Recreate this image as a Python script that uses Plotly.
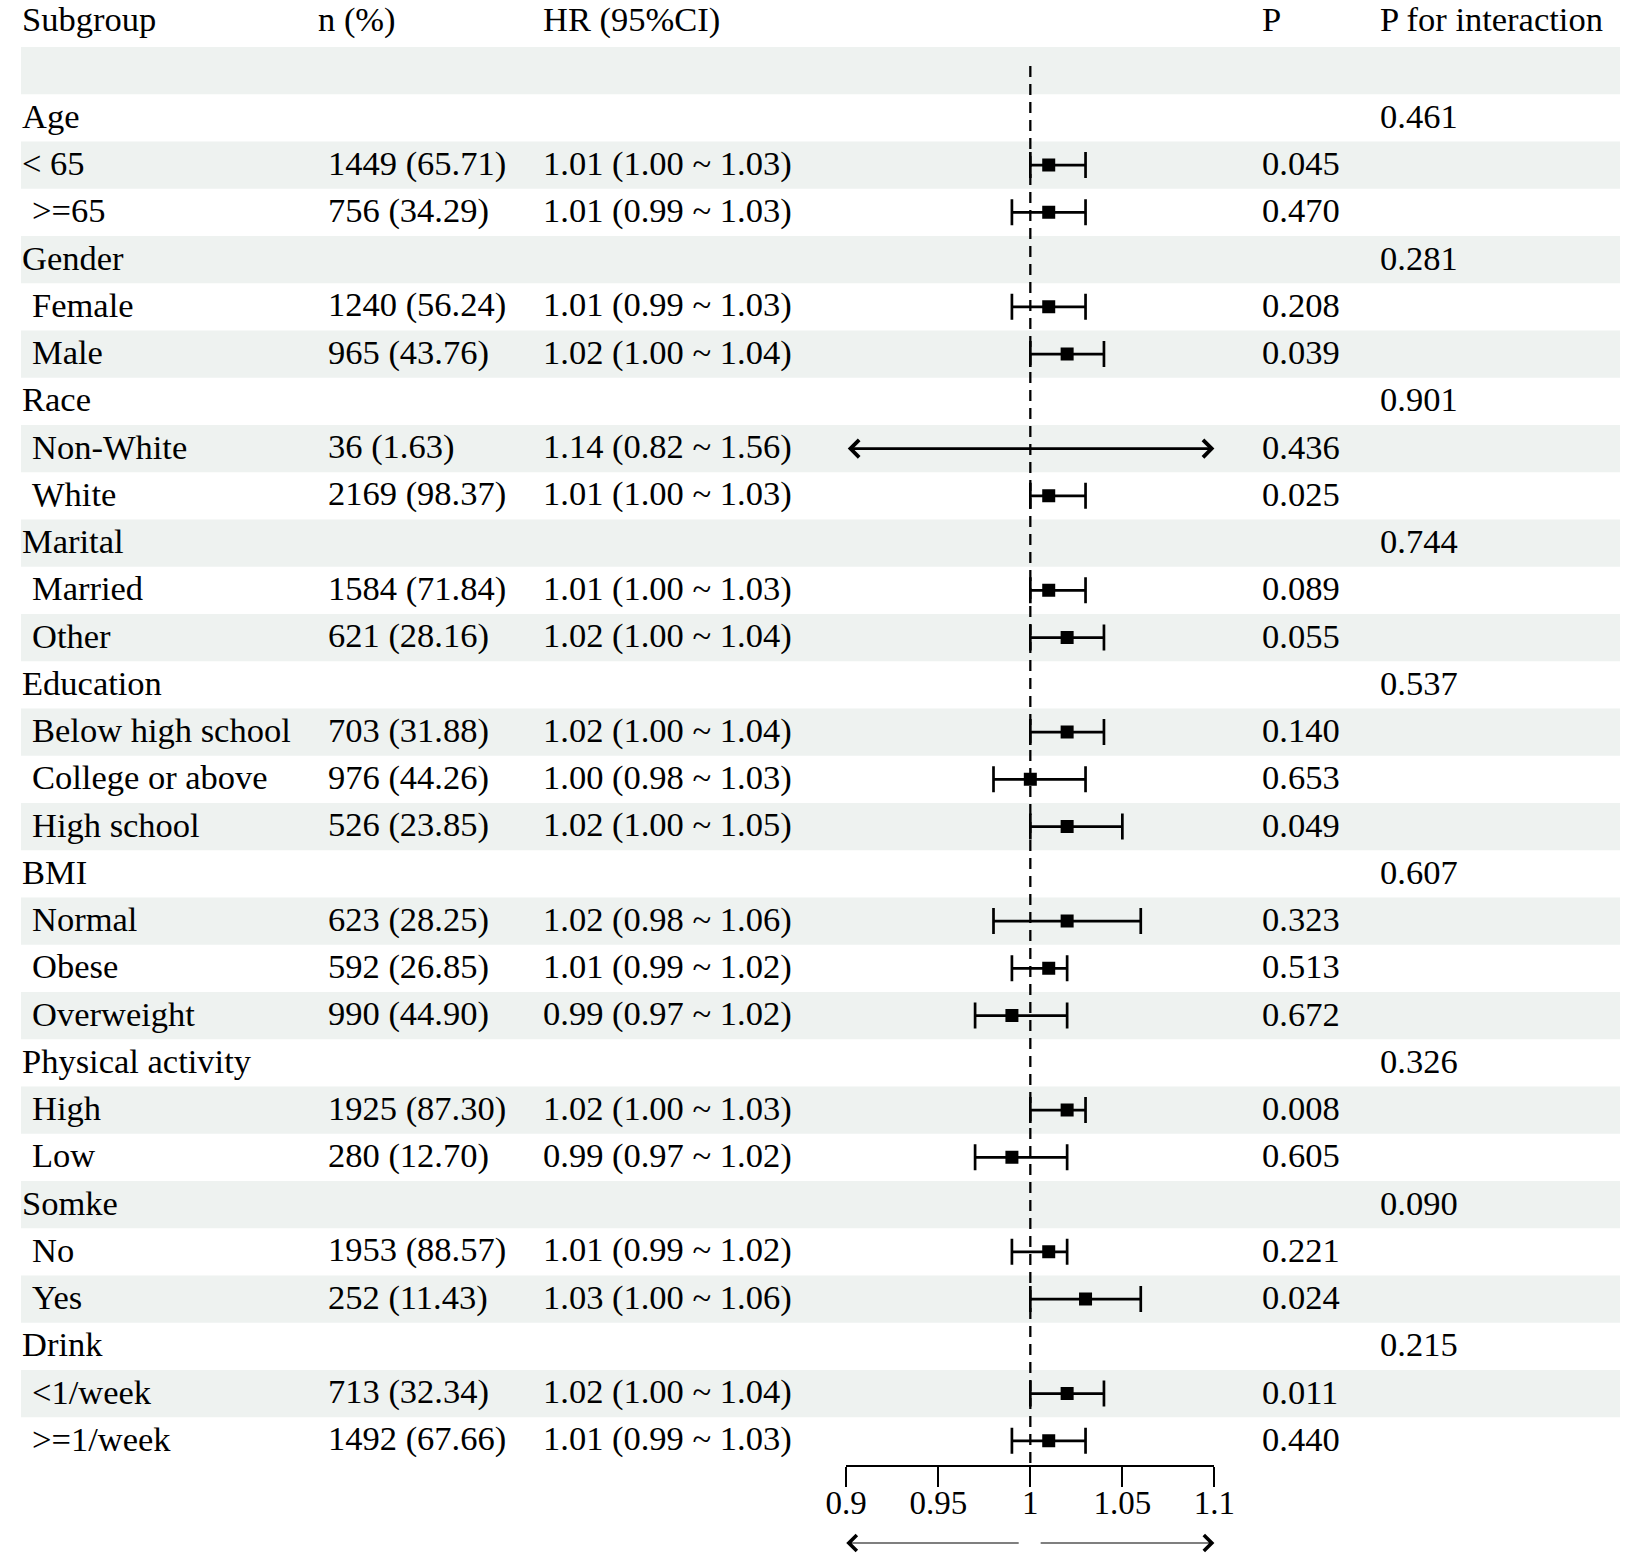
import plotly.graph_objects as go

# ---------------- data ----------------
subgroups = ["", "Age", "< 65", ">=65", "Gender", "Female", "Male", "Race", "Non-White", "White",
             "Marital", "Married", "Other", "Education", "Below high school", "College or above",
             "High school", "BMI", "Normal", "Obese", "Overweight", "Physical activity", "High", "Low",
             "Somke", "No", "Yes", "Drink", "<1/week", ">=1/week"]
indent = [0, 0, 0, 1, 0, 1, 1, 0, 1, 1,
          0, 1, 1, 0, 1, 1,
          1, 0, 1, 1, 1, 0, 1, 1,
          0, 1, 1, 0, 1, 1]
n_pct = ["", "", "1449 (65.71)", "756 (34.29)", "", "1240 (56.24)", "965 (43.76)", "", "36 (1.63)", "2169 (98.37)",
         "", "1584 (71.84)", "621 (28.16)", "", "703 (31.88)", "976 (44.26)",
         "526 (23.85)", "", "623 (28.25)", "592 (26.85)", "990 (44.90)", "", "1925 (87.30)", "280 (12.70)",
         "", "1953 (88.57)", "252 (11.43)", "", "713 (32.34)", "1492 (67.66)"]
hr = [None, None, 1.01, 1.01, None, 1.01, 1.02, None, 1.14, 1.01,
      None, 1.01, 1.02, None, 1.02, 1.00,
      1.02, None, 1.02, 1.01, 0.99, None, 1.02, 0.99,
      None, 1.01, 1.03, None, 1.02, 1.01]
lo = [None, None, 1.00, 0.99, None, 0.99, 1.00, None, 0.82, 1.00,
      None, 1.00, 1.00, None, 1.00, 0.98,
      1.00, None, 0.98, 0.99, 0.97, None, 1.00, 0.97,
      None, 0.99, 1.00, None, 1.00, 0.99]
hi = [None, None, 1.03, 1.03, None, 1.03, 1.04, None, 1.56, 1.03,
      None, 1.03, 1.04, None, 1.04, 1.03,
      1.05, None, 1.06, 1.02, 1.02, None, 1.03, 1.02,
      None, 1.02, 1.06, None, 1.04, 1.03]
p_val = ["", "", "0.045", "0.470", "", "0.208", "0.039", "", "0.436", "0.025",
         "", "0.089", "0.055", "", "0.140", "0.653",
         "0.049", "", "0.323", "0.513", "0.672", "", "0.008", "0.605",
         "", "0.221", "0.024", "", "0.011", "0.440"]
p_int = ["", "0.461", "", "", "0.281", "", "", "0.901", "", "",
         "0.744", "", "", "0.537", "", "",
         "", "0.607", "", "", "", "0.326", "", "",
         "0.090", "", "", "0.215", "", ""]
headers = ["Subgroup", "n (%)", "HR (95%CI)", "P", "P for interaction"]
tick_vals = [0.9, 0.95, 1.0, 1.05, 1.1]
tick_text = ["0.9", "0.95", "1", "1.05", "1.1"]
x_lim = (0.9, 1.1)
ref_line = 1.0

# ---------------- geometry (page pixels) ----------------
W, H = 1641, 1556
row0_px = 70.6
row_h = 47.25
FONT = "Liberation Serif"
FS = 34.5
# horizontal correction measured from previous renders
HA, HB = 0.974, 21.1

def px_to_row(py):
    return (py - row0_px) / row_h

def xp(px):
    page = (px - HB) / HA
    page = min(max(page, 0.0), W)
    return page / W

def yp(py):
    return 1 - py / H

fig = go.Figure()
rows = list(range(len(subgroups)))

shapes = []
for r in rows:
    if r % 2 == 0:
        shapes.append(dict(type="rect", xref="paper", yref="y", x0=xp(5), x1=xp(1638),
                           y0=r - 0.5, y1=r + 0.5, fillcolor="#EEF2F0", line=dict(width=0),
                           layer="below"))

shapes.append(dict(type="line", xref="x", yref="y", x0=ref_line, x1=ref_line,
                   y0=px_to_row(66), y1=px_to_row(1466),
                   line=dict(color="black", width=2.3, dash="11px,7px")))

pr, ph, plo, phi = [], [], [], []
clipped = []
for r in rows:
    if hr[r] is None:
        continue
    if lo[r] < x_lim[0] or hi[r] > x_lim[1]:
        clipped.append(r)
        continue
    pr.append(r); ph.append(hr[r]); plo.append(hr[r] - lo[r]); phi.append(hi[r] - hr[r])

fig.add_trace(go.Scatter(
    x=ph, y=pr, mode="markers",
    marker=dict(symbol="square", size=13, color="black"),
    error_x=dict(type="data", symmetric=False, array=phi, arrayminus=plo,
                 width=13, thickness=2.7, color="black"),
    showlegend=False, hoverinfo="skip"))

annotations = []
for r in clipped:
    a = max(lo[r], x_lim[0]); b = min(hi[r], x_lim[1])
    annotations.append(dict(x=b, y=r, ax=a, ay=r, xref="x", yref="y", axref="x", ayref="y",
                            text="", showarrow=True, arrowhead=4, startarrowhead=4,
                            arrowside="end+start", arrowwidth=2.8, arrowsize=1.2,
                            startarrowsize=1.2, arrowcolor="black"))

y_arr = px_to_row(1543)
annotations.append(dict(x=x_lim[0], y=y_arr, ax=ref_line - 0.0055, ay=y_arr, xref="x", yref="y",
                        axref="x", ayref="y", text="", showarrow=True, arrowhead=4,
                        arrowwidth=1.2, arrowsize=2.6, arrowcolor="black"))
annotations.append(dict(x=x_lim[1], y=y_arr, ax=ref_line + 0.0048, ay=y_arr, xref="x", yref="y",
                        axref="x", ayref="y", text="", showarrow=True, arrowhead=4,
                        arrowwidth=1.2, arrowsize=2.6, arrowcolor="black"))

def txt(x_px, r, s, shift=2):
    annotations.append(dict(x=xp(x_px), y=r, xref="paper", yref="y", text=s, showarrow=False,
                            xanchor="left", yanchor="middle", borderpad=0, yshift=shift,
                            font=dict(family=FONT, size=FS, color="black")))

hdr_r = px_to_row(19)
hdr_x = [6, 317, 542, 1261, 1379]
for hx, hs in zip(hdr_x, headers):
    txt(hx, hdr_r, hs, shift=0)

for r in rows:
    if subgroups[r]:
        txt(31 if indent[r] else 6, r, subgroups[r])
    if n_pct[r]:
        txt(327, r, n_pct[r])
    if hr[r] is not None:
        txt(542, r, f"{hr[r]:.2f} ({lo[r]:.2f} ~ {hi[r]:.2f})")
    if p_val[r]:
        txt(1261, r, p_val[r])
    if p_int[r]:
        txt(1379, r, p_int[r])

fig.update_layout(
    width=W, height=H, margin=dict(l=0, r=0, t=0, b=0),
    paper_bgcolor="white", plot_bgcolor="rgba(0,0,0,0)",
    shapes=shapes, annotations=annotations,
    xaxis=dict(domain=[xp(846), xp(1214)], range=list(x_lim), anchor="free",
               position=yp(1466), showline=True, linecolor="black", linewidth=1.5,
               ticks="outside", ticklen=20, tickwidth=1.5, tickcolor="black",
               tickvals=tick_vals, ticktext=tick_text, showgrid=False, zeroline=False,
               ticklabelstandoff=-12,
               tickfont=dict(family=FONT, size=33, color="black")),
    yaxis=dict(domain=[0, 1], range=[px_to_row(H), px_to_row(0)], visible=False,
               showgrid=False, zeroline=False),
)

fig.write_html("out.html", config={"displayModeBar": False},
               post_script="document.body.style.margin='0';document.body.style.padding='0';"
                           "document.body.style.overflow='hidden';")
